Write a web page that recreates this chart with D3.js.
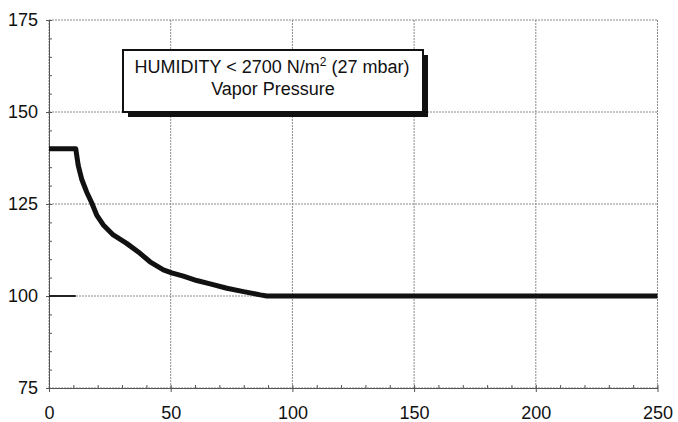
<!DOCTYPE html>
<html>
<head>
<meta charset="utf-8">
<script src="https://cdn.jsdelivr.net/npm/d3@7"></script>
<style>
  body { margin: 0; background: #fff; }
  svg { display: block; font-family: "Liberation Sans", Arial, sans-serif; }
</style>
</head>
<body>
<div id="chart"></div>
<script>
// curve
const xValues = [0, 11, 12, 13.4, 15.5, 17.5, 19.6, 22.3, 26.4, 31.9, 37.4, 41.5, 47, 50.4, 55.2, 60.7, 66.2, 73.1, 79.9, 86.8, 89.5, 250];
const yValues = [140, 140, 135.5, 131.8, 128.2, 125.4, 122, 119.3, 116.6, 114.3, 111.6, 109.3, 107.1, 106.3, 105.4, 104.2, 103.3, 102.1, 101.2, 100.3, 100, 100];

// short reference stub at 100
const stubX = [0, 11];
const stubY = [100, 100];

const xTicks = [0, 50, 100, 150, 200, 250];
const yTicks = [75, 100, 125, 150, 175];
const xMinor = d3.range(0, 251, 10);
const yMinor = d3.range(75, 176, 5);

const legendLines = ["HUMIDITY < 2700 N/m", "Vapor Pressure"];

const width = 678;
const height = 422;
const margin = ({top: 20, right: 20.5, bottom: 34, left: 49});

const x = d3.scaleLinear()
      .domain([0, 250])
      .range([margin.left, width - margin.right]);

const y = d3.scaleLinear()
      .domain([75, 175])
      .range([height - margin.bottom, margin.top]);

const svg = d3.select("#chart").append("svg")
      .attr("width", width)
      .attr("height", height)
      .attr("viewBox", [0, 0, width, height]);

// grid
svg.append("g")
    .attr("stroke", "#8a8a8a")
    .attr("stroke-width", 1)
    .attr("stroke-dasharray", "2,1")
    .call(g => g.selectAll(".v").data(xTicks).join("line")
          .attr("x1", d => x(d)).attr("x2", d => x(d))
          .attr("y1", y(175)).attr("y2", y(75)))
    .call(g => g.selectAll(".h").data(yTicks).join("line")
          .attr("x1", x(0)).attr("x2", x(250))
          .attr("y1", d => y(d)).attr("y2", d => y(d)));

// minor ticks
svg.append("g")
    .attr("transform", `translate(0,${y(75)})`)
    .call(d3.axisBottom(x).tickValues(xMinor).tickSize(-3).tickFormat(""))
    .call(g => g.select(".domain").remove())
    .call(g => g.selectAll("line").attr("stroke", "#555"));

svg.append("g")
    .attr("transform", `translate(${x(0)},0)`)
    .call(d3.axisLeft(y).tickValues(yMinor).tickSize(-3).tickFormat(""))
    .call(g => g.select(".domain").remove())
    .call(g => g.selectAll("line").attr("stroke", "#555"));

// axes
svg.append("g")
    .attr("transform", `translate(0,${y(75)})`)
    .call(d3.axisBottom(x).tickValues(xTicks).tickSize(4).tickPadding(14).tickSizeOuter(0))
    .call(g => g.select(".domain").attr("stroke", "#555"))
    .call(g => g.selectAll("line").attr("stroke", "#555"))
    .call(g => g.selectAll("text")
          .attr("font-size", 18)
          .attr("font-family", "Liberation Sans, Arial, sans-serif")
          .attr("fill", "#111"));

svg.append("g")
    .attr("transform", `translate(${x(0)},0)`)
    .call(d3.axisLeft(y).tickValues(yTicks).tickSize(3).tickPadding(8).tickSizeOuter(0))
    .call(g => g.select(".domain").attr("stroke", "#555"))
    .call(g => g.selectAll("line").attr("stroke", "#555"))
    .call(g => g.selectAll("text")
          .attr("font-size", 18)
          .attr("font-family", "Liberation Sans, Arial, sans-serif")
          .attr("fill", "#111"));

const line = d3.line()
      .x(d => x(d[0]))
      .y(d => y(d[1]));

svg.append("path")
    .datum(d3.zip(stubX, stubY))
    .attr("fill", "none")
    .attr("stroke", "#222")
    .attr("stroke-width", 2)
    .attr("d", line);

svg.append("path")
    .datum(d3.zip(xValues, yValues))
    .attr("fill", "none")
    .attr("stroke", "#111")
    .attr("stroke-width", 5)
    .attr("stroke-linejoin", "round")
    .attr("d", line);

// legend box with shadow
const box = {x: 123, y: 50, w: 300, h: 62};
const legend = svg.append("g");

legend.append("rect")
    .attr("x", box.x + 5).attr("y", box.y + 5)
    .attr("width", box.w).attr("height", box.h)
    .attr("fill", "#111");

legend.append("rect")
    .attr("x", box.x).attr("y", box.y)
    .attr("width", box.w).attr("height", box.h)
    .attr("fill", "#fff")
    .attr("stroke", "#111")
    .attr("stroke-width", 2);

const t1 = legend.append("text")
      .attr("x", box.x + box.w / 2 - 1)
      .attr("y", 72.5)
      .attr("text-anchor", "middle")
      .attr("font-size", 18)
      .attr("fill", "#111");
t1.append("tspan").text(legendLines[0]);
t1.append("tspan").attr("font-size", 12).attr("dy", -7).text("2");
t1.append("tspan").attr("dy", 7).text(" (27 mbar)");

legend.append("text")
    .attr("x", box.x + box.w / 2)
    .attr("y", 95)
    .attr("text-anchor", "middle")
    .attr("font-size", 18)
    .attr("fill", "#111")
    .text(legendLines[1]);
</script>
</body>
</html>
